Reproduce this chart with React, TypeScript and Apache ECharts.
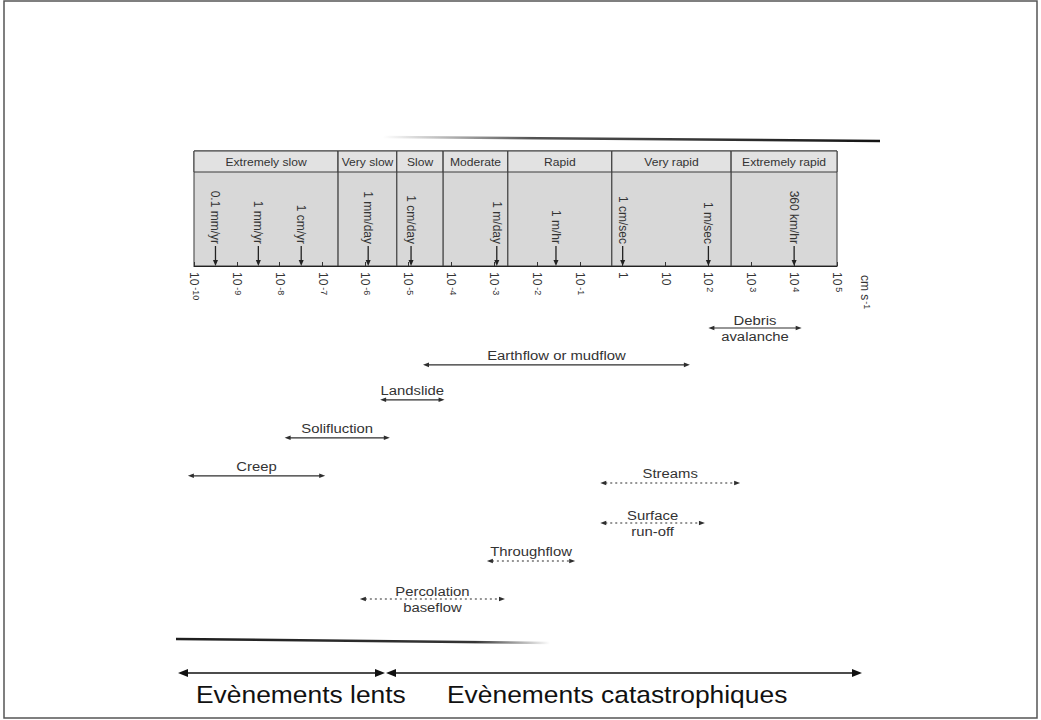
import React, { useEffect, useRef } from 'react';
import * as echarts from 'echarts';

const FONT = '"Liberation Sans", Arial, Helvetica, sans-serif';

// Velocity classes (cm s-1) shown as the boxed header above the scale
const rateClasses = ['Extremely slow', 'Very slow', 'Slow', 'Moderate', 'Rapid', 'Very rapid', 'Extremely rapid'];
const rateBounds = [1e-10, 2.3e-7, 5.4e-6, 6.5e-5, 2.1e-3, 0.56, 340, 1e5];

// Reference velocities marked with downward arrows (cm s-1)
const velocityLabels = ['0.1 mm/yr', '1 mm/yr', '1 cm/yr', '1 mm/day', '1 cm/day', '1 m/day', '1 m/hr', '1 cm/sec', '1 m/sec', '360 km/hr'];
const velocityValues = [3.17e-10, 3.17e-9, 3.17e-8, 1.157e-6, 1.157e-5, 1.157e-3, 2.78e-2, 1, 100, 1e4];

// Process velocity ranges (cm s-1)
const processNames = [
  'Debris\navalanche',
  'Earthflow or mudflow',
  'Landslide',
  'Solifluction',
  'Creep',
  'Streams',
  'Surface\nrun-off',
  'Throughflow',
  'Percolation\nbaseflow',
];
const processMin = [100, 2.2e-5, 2.2e-6, 1.3e-8, 7.2e-11, 0.3, 0.3, 6.8e-4, 7.4e-7];
const processMax = [15000, 37, 7e-5, 3.7e-6, 1.15e-7, 550, 83, 0.078, 1.8e-3];
const processLane = [0, 0.97, 1.89, 2.89, 3.89, 4.08, 5.13, 6.13, 7.13];
const processKind = ['mass', 'mass', 'mass', 'mass', 'mass', 'water', 'water', 'water', 'water'];

const WIDE = 1.1; // horizontal stretch of the lettering

function tickLabel(v: number): string {
  const e = Math.round(Math.log10(v));
  if (e === 0) return '1';
  if (e === 1) return '10';
  return `{b|10}{s|${e}}`;
}

function buildOption(): any {
  const ink = '#2e2e2e';
  return {
    animation: false,
    backgroundColor: '#ffffff',
    grid: [
      { left: 194, right: 204, top: 151, height: 115 },
      { left: 172.57, right: 182.57, top: 328, height: 304 },
    ],
    xAxis: [
      {
        type: 'log',
        gridIndex: 0,
        logBase: 10,
        min: 1e-10,
        max: 1e5,
        interval: 1,
        z: 5,
        axisLine: { show: true, lineStyle: { color: '#222', width: 1.2 } },
        axisTick: { show: true, inside: true, length: 4, lineStyle: { color: '#333' } },
        splitLine: { show: false },
        minorTick: { show: false },
        axisLabel: {
          rotate: -90,
          margin: 6,
          interval: 0,
          showMinLabel: true,
          showMaxLabel: true,
          hideOverlap: false,
          color: '#333',
          fontSize: 12,
          fontFamily: FONT,
          formatter: tickLabel,
          rich: {
            b: { fontSize: 12, fontFamily: FONT, color: '#333' },
            s: { fontSize: 9, fontFamily: FONT, color: '#333', verticalAlign: 'top', padding: [0, 0, 0, 2] },
          },
        },
      },
      {
        type: 'log',
        gridIndex: 1,
        logBase: 10,
        min: Math.pow(10, -10.5),
        max: Math.pow(10, 5.5),
        show: false,
      },
    ],
    yAxis: [
      { type: 'value', gridIndex: 0, min: 0, max: 1, show: false },
      { type: 'value', gridIndex: 1, min: 0, max: 8, inverse: true, show: false },
    ],
    series: [
      {
        type: 'custom',
        name: 'classes',
        xAxisIndex: 0,
        yAxisIndex: 0,
        encode: { x: [0, 1], y: 2 },
        data: rateClasses.map((_, i) => [rateBounds[i], rateBounds[i + 1], 0]),
        renderItem: (params: any, api: any) => {
          const tl = api.coord([api.value(0), 1]);
          const br = api.coord([api.value(1), 0]);
          const w = br[0] - tl[0];
          const h = br[1] - tl[1];
          return {
            type: 'group',
            children: [
              { type: 'rect', shape: { x: tl[0], y: tl[1], width: w, height: h }, style: { fill: '#d8d8d8', stroke: '#3a3a3a', lineWidth: 1 } },
              { type: 'rect', shape: { x: tl[0], y: tl[1], width: w, height: 21 }, style: { fill: '#e2e2e2', stroke: '#3a3a3a', lineWidth: 1 } },
              {
                type: 'text',
                x: tl[0] + w / 2,
                y: tl[1] + 11,
                scaleX: WIDE,
                style: { text: rateClasses[params.dataIndex], align: 'center', verticalAlign: 'middle', font: `11px ${FONT}`, fill: '#333' },
              },
            ],
          };
        },
      },
      {
        type: 'custom',
        name: 'velocities',
        xAxisIndex: 0,
        yAxisIndex: 0,
        z: 6,
        encode: { x: 0, y: 1 },
        data: velocityValues.map((v) => [v, 0]),
        renderItem: (params: any, api: any) => {
          const p = api.coord([api.value(0), 0]);
          const x = p[0];
          const b = p[1];
          return {
            type: 'group',
            children: [
              { type: 'line', shape: { x1: x, y1: b - 20, x2: x, y2: b - 4 }, style: { stroke: '#222', lineWidth: 1.3 } },
              { type: 'polygon', shape: { points: [[x - 2.5, b - 6], [x + 2.5, b - 6], [x, b]] }, style: { fill: '#222' } },
              {
                type: 'text',
                x,
                y: b - 22,
                rotation: -Math.PI / 2,
                style: { text: velocityLabels[params.dataIndex], align: 'right', verticalAlign: 'middle', font: `12px ${FONT}`, fill: '#333' },
              },
            ],
          };
        },
      },
      {
        type: 'custom',
        name: 'processes',
        xAxisIndex: 1,
        yAxisIndex: 1,
        encode: { x: [0, 1], y: 2 },
        data: processNames.map((_, i) => [processMin[i], processMax[i], processLane[i]]),
        renderItem: (params: any, api: any) => {
          const i = params.dataIndex;
          const a = api.coord([api.value(0), api.value(2)]);
          const c = api.coord([api.value(1), api.value(2)]);
          const y = a[1];
          const dashed = processKind[i] === 'water';
          const name = processNames[i];
          const twoLine = name.indexOf('\n') >= 0;
          return {
            type: 'group',
            children: [
              {
                type: 'line',
                shape: { x1: a[0] + 5, y1: y, x2: c[0] - 5, y2: y },
                style: { stroke: ink, lineWidth: dashed ? 1.1 : 1.2, lineDash: dashed ? [2, 3] : null },
              },
              { type: 'polygon', shape: { points: [[a[0], y], [a[0] + 6, y - 2.3], [a[0] + 6, y + 2.3]] }, style: { fill: ink } },
              { type: 'polygon', shape: { points: [[c[0], y], [c[0] - 6, y - 2.3], [c[0] - 6, y + 2.3]] }, style: { fill: ink } },
              {
                type: 'text',
                x: (a[0] + c[0]) / 2,
                y: twoLine ? y : y - 10,
                scaleX: WIDE,
                style: { text: name, align: 'center', verticalAlign: 'middle', font: `13.5px ${FONT}`, lineHeight: 16, fill: '#333' },
              },
            ],
          };
        },
      },
    ],
    graphic: [
      // page frame
      { type: 'rect', silent: true, shape: { x: 4, y: 1, width: 1033, height: 717 }, style: { fill: 'none', stroke: '#555', lineWidth: 1.5 } },
      // page edges above and below the figure
      {
        type: 'line',
        silent: true,
        shape: { x1: 383, y1: 137, x2: 880, y2: 141 },
        style: {
          lineWidth: 2.5,
          stroke: new echarts.graphic.LinearGradient(0, 0, 1, 0, [
            { offset: 0, color: 'rgba(40,40,40,0)' },
            { offset: 0.3, color: 'rgba(40,40,40,0.8)' },
            { offset: 1, color: 'rgba(20,20,20,1)' },
          ]),
        },
      },
      {
        type: 'line',
        silent: true,
        shape: { x1: 176, y1: 639, x2: 550, y2: 643 },
        style: {
          lineWidth: 2.5,
          stroke: new echarts.graphic.LinearGradient(0, 0, 1, 0, [
            { offset: 0, color: 'rgba(30,30,30,1)' },
            { offset: 0.8, color: 'rgba(30,30,30,0.9)' },
            { offset: 1, color: 'rgba(30,30,30,0)' },
          ]),
        },
      },
      // units of the scale
      {
        type: 'text',
        x: 865,
        y: 275,
        rotation: -Math.PI / 2,
        style: {
          text: 'cm s{s|-1}',
          align: 'left',
          verticalAlign: 'middle',
          font: `12px ${FONT}`,
          fill: '#333',
          rich: { s: { fontSize: 9, fontFamily: FONT, fill: '#333', verticalAlign: 'top', padding: [0, 0, 0, 1] } },
        },
      },
      // slow / catastrophic events arrows
      { type: 'line', silent: true, shape: { x1: 186, y1: 673, x2: 377, y2: 673 }, style: { stroke: '#111', lineWidth: 1.5 } },
      { type: 'polygon', silent: true, shape: { points: [[178, 673], [188, 669], [188, 677]] }, style: { fill: '#111' } },
      { type: 'polygon', silent: true, shape: { points: [[385, 673], [375, 669], [375, 677]] }, style: { fill: '#111' } },
      { type: 'line', silent: true, shape: { x1: 395, y1: 673, x2: 854, y2: 673 }, style: { stroke: '#111', lineWidth: 1.5 } },
      { type: 'polygon', silent: true, shape: { points: [[386, 673], [396, 669], [396, 677]] }, style: { fill: '#111' } },
      { type: 'polygon', silent: true, shape: { points: [[862, 673], [852, 669], [852, 677]] }, style: { fill: '#111' } },
      { type: 'text', x: 196, y: 694, scaleX: WIDE, style: { text: 'Evènements lents', align: 'left', verticalAlign: 'middle', font: `24px ${FONT}`, fill: '#111' } },
      { type: 'text', x: 447, y: 694, scaleX: WIDE, style: { text: 'Evènements catastrophiques', align: 'left', verticalAlign: 'middle', font: `24px ${FONT}`, fill: '#111' } },
    ],
  };
}

export default function App() {
  const ref = useRef<HTMLDivElement>(null);
  useEffect(() => {
    document.body.style.margin = '0';
    const chart = echarts.init(ref.current as HTMLDivElement, null, { renderer: 'svg' });
    chart.setOption(buildOption());
    return () => chart.dispose();
  }, []);
  return <div ref={ref} style={{ width: 1041, height: 720 }} />;
}
